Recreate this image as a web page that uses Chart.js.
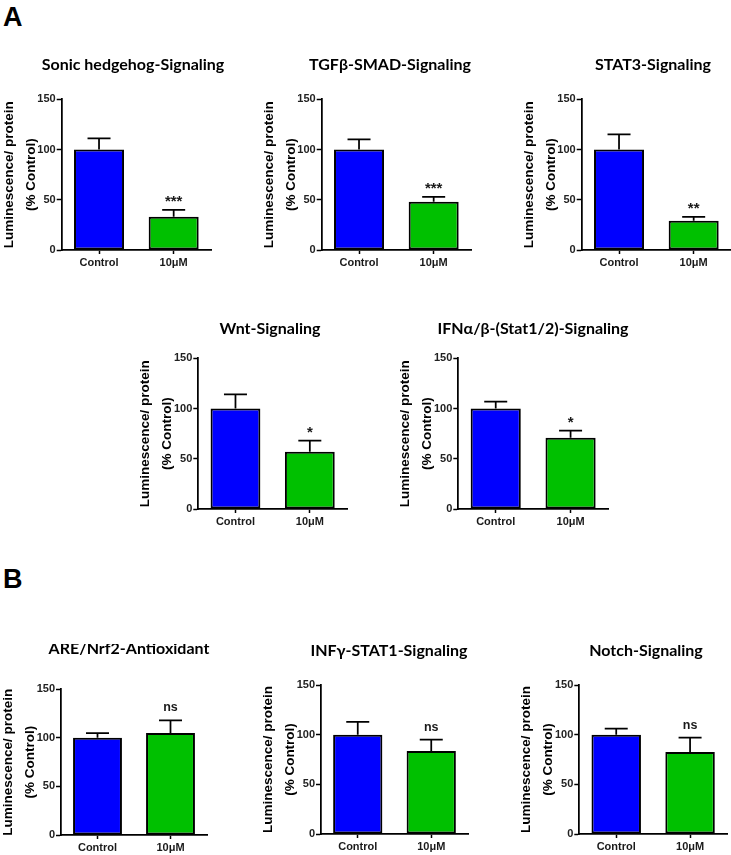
<!DOCTYPE html>
<html><head><meta charset="utf-8">
<script src="https://cdn.jsdelivr.net/npm/chart.js@4/dist/chart.umd.min.js"></script>
<style>
html,body{margin:0;padding:0;background:#fff;}
body{width:731px;height:855px;position:relative;overflow:hidden;}
canvas{position:absolute;}
.lbl{position:absolute;font-family:'Liberation Sans',Arial,sans-serif;font-weight:bold;font-size:27px;color:#000;line-height:1;}
</style></head><body>
<div class="lbl" style="left:3px;top:4px">A</div>
<div class="lbl" style="left:3px;top:566px">B</div>
<script>
const categories = ['Control', '10μM'];
const panelTitles = ['Sonic hedgehog-Signaling','TGFβ-SMAD-Signaling','STAT3-Signaling','Wnt-Signaling','IFNα/β-(Stat1/2)-Signaling','ARE/Nrf2-Antioxidant','INFγ-STAT1-Signaling','Notch-Signaling'];
const controlMeans = [100,100,100,100,100,100,100,100];
const controlSEM = [11,10,15,14,7,5,13,6];
const treatedMeans = [33,48,29,57,71,105,83.5,82.5];
const treatedSEM = [7,5,4,11,7,13,11.5,14.5];
const significance = ['***','***','**','*','*','ns','ns','ns'];
const yTicks = [0,50,100,150];
const yAxisLabel = ['Luminescence/ protein','(% Control)'];

// page geometry: [axisLeft, axisRight, y of top tick, y of zero, title centre x, title baseline y]
const panelLayout = [
 [61.7,211,99.3,249.3,133,70],
 [321.7,471,99.3,250,390,70],
 [581.7,731,99.3,250,653,70],
 [198.3,347,358.3,508.3,270,333.5],
 [458.3,608,358.3,508.3,533,333.5],
 [61,207,689.3,835,129,654],
 [321,468,685,834,389,656],
 [579.3,727,685,834,646,655.5]
];

const FAM = "'Liberation Sans', Arial, sans-serif";
const X_AXIS_H = 28;

const panelDecor = {
  id: 'panelDecor',
  afterDatasetsDraw(chart, args, opts) {
    const ctx = chart.ctx, y = chart.scales.y;
    const meta = chart.getDatasetMeta(0);
    ctx.save();
    ctx.strokeStyle = '#000'; ctx.lineWidth = 1.75;
    opts.means.forEach((m, i) => {
      const x = meta.data[i].x;
      const yb = y.getPixelForValue(m);
      const yt = y.getPixelForValue(m + opts.errs[i]);
      ctx.beginPath();
      ctx.moveTo(x, yb); ctx.lineTo(x, yt);
      ctx.moveTo(x - 11.5, yt); ctx.lineTo(x + 11.5, yt);
      ctx.stroke();
    });
    const xs = meta.data[1].x;
    const ys = y.getPixelForValue(opts.means[1] + opts.errs[1]);
    const star = opts.sig.indexOf('*') >= 0;
    ctx.fillStyle = '#1a1a1a';
    ctx.textAlign = 'center'; ctx.textBaseline = 'alphabetic';
    ctx.font = star ? 'bold 15px ' + FAM : 'bold 12.5px ' + FAM;
    ctx.fillText(opts.sig, xs, ys - (star ? 4 : 9));
    ctx.font = 'bold 16px Lato';
    ctx.fillStyle = '#000';
    ctx.fillText(opts.title, opts.titleX, opts.titleY);
    ctx.restore();
  }
};

panelLayout.forEach((L, p) => {
  const [axL, axR, yTop, yZero, tX, tY] = L;
  const cl = Math.round(axL - 64);
  const yW = axL - cl;
  const ct = Math.round(yTop - 45);
  const T = yTop - ct;
  const cw = Math.ceil(Math.max(axR, tX + 115) - cl);
  const R = cw - (axR - cl);
  const ch = Math.ceil(yZero - ct + X_AXIS_H);
  const c = document.createElement('canvas');
  c.width = cw; c.height = ch;
  c.style.left = cl + 'px'; c.style.top = ct + 'px';
  c.style.width = cw + 'px'; c.style.height = ch + 'px';
  document.body.appendChild(c);
  new Chart(c, {
    type: 'bar',
    data: {
      labels: categories,
      datasets: [{
        data: [controlMeans[p], treatedMeans[p]],
        backgroundColor: ['#0000FF', '#00C000'],
        borderColor: '#000', borderWidth: 2, borderSkipped: false,
        barPercentage: 0.67, categoryPercentage: 1
      }]
    },
    options: {
      responsive: false, animation: false, devicePixelRatio: 1,
      layout: { padding: { top: T, left: 0, right: R, bottom: 0 } },
      plugins: {
        legend: { display: false }, tooltip: { enabled: false },
        panelDecor: {
          means: [controlMeans[p], treatedMeans[p]],
          errs: [controlSEM[p], treatedSEM[p]],
          sig: significance[p], title: panelTitles[p],
          titleX: tX - cl, titleY: tY - ct
        }
      },
      scales: {
        x: {
          offset: true,
          grid: { display: true, drawOnChartArea: false, offset: false, tickLength: 4, tickWidth: 1.5, tickColor: '#000' },
          border: { display: true, color: '#000', width: 1.75 },
          ticks: { font: { family: FAM, size: 11, weight: 'bold' }, color: '#1a1a1a', padding: 2, maxRotation: 0 },
          afterFit(s) { s.height = X_AXIS_H; }
        },
        y: {
          min: 0, max: 150,
          afterBuildTicks(s) { s.ticks = yTicks.map(v => ({ value: v })); },
          grid: { display: true, drawOnChartArea: false, tickLength: 5, tickWidth: 1.5, tickColor: '#000' },
          border: { display: true, color: '#000', width: 1.75 },
          ticks: { font: { family: FAM, size: 11, weight: 'bold' }, color: '#222', padding: 1 },
          title: { display: true, text: yAxisLabel, color: '#000',
                   font: { family: FAM, size: 13.5, weight: 'bold', lineHeight: 1.63 },
                   padding: { top: 0, bottom: 0 } },
          afterFit(s) { s.width = yW; }
        }
      }
    },
    plugins: [panelDecor]
  });
});
</script>
</body></html>
